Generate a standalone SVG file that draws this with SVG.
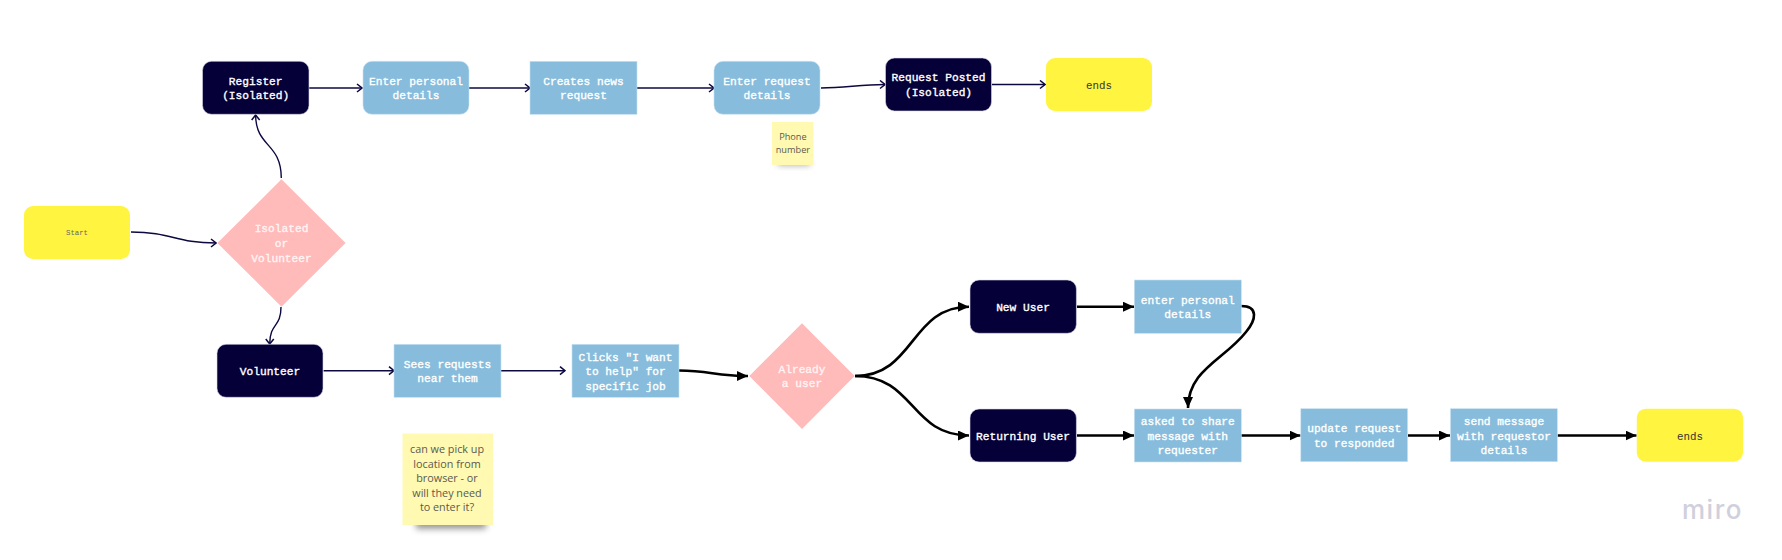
<svg xmlns="http://www.w3.org/2000/svg" width="1782" height="560" viewBox="0 0 1782 560">
<style>
text{text-anchor:middle}
.t{font:11.2px "Liberation Mono",monospace;fill:#fff;stroke:#fff;stroke-width:.35}
.p{font:11.2px "Liberation Mono",monospace;fill:#fff4f4;stroke:#fff4f4;stroke-width:.35}
.y{font:10.8px "Liberation Mono",monospace;fill:#333}
.n{font:10.8px "Open Sans",sans-serif;fill:#5a5a50}
.navy{fill:#050038;stroke:#d8d6e8;stroke-width:.6}
.blue{fill:#87bcdc;stroke:#c8e2f2;stroke-width:.6}
.yel{fill:#fff440}
.pink{fill:#ffbaba}
.note{fill:#fff9b1}
.c1{fill:none;stroke:#0c0840;stroke-width:1.4;marker-end:url(#open)}
.c2{fill:none;stroke:#000;stroke-width:2.6;marker-end:url(#solid)}
</style>
<defs>
<marker id="open" viewBox="0 0 8 10" refX="7" refY="5" markerUnits="userSpaceOnUse" markerWidth="8" markerHeight="10" orient="auto"><path d="M2 1 L7 5 L2 9" fill="none" stroke="#0c0840" stroke-width="1.5"/></marker>
<marker id="solid" viewBox="0 0 11 10" refX="11" refY="5" markerUnits="userSpaceOnUse" markerWidth="11" markerHeight="10" orient="auto"><path d="M0 0 L11 5 L0 10 Z" fill="#000"/></marker>
<filter id="blur" x="-20%" y="-150%" width="140%" height="400%"><feGaussianBlur stdDeviation="3"/></filter>
</defs>
<rect width="1782" height="560" fill="#fff"/>
<g id="connectors">
<path class="c1" d="M131 232 C172 232 175 243 216 243"/>
<path class="c1" d="M281.3 178 C281 142 256 148 255.6 115"/>
<path class="c1" d="M281 307 C281 328 270 322 269.7 344"/>
<path class="c1" d="M309 88 H362"/>
<path class="c1" d="M469 88 H530"/>
<path class="c1" d="M637 88 H714"/>
<path class="c1" d="M821 88 C845 88 860 84.5 885 84.5"/>
<path class="c1" d="M992 84.5 H1045"/>
<path class="c1" d="M323.5 370.7 H394"/>
<path class="c1" d="M501 370.7 H565"/>
<path class="c2" d="M679 370.5 C710 370.5 715 376 748 376"/>
<path class="c2" d="M855 376 C915 376 910 306.7 969 306.7"/>
<path class="c2" d="M855 376 C915 376 910 435.5 969 435.5"/>
<path class="c2" d="M1077 306.7 H1134"/>
<path class="c2" d="M1077 435.5 H1134"/>
<path class="c2" d="M1241 306 C1259 306 1256 320 1246 332 C1224 360 1188 370 1188 408"/>
<path class="c2" d="M1241 435.5 H1300.5"/>
<path class="c2" d="M1408 435.5 H1450"/>
<path class="c2" d="M1557.5 435.5 H1636.5"/>
</g>
<g id="start"><rect class="yel" x="24" y="206" width="106" height="53" rx="9"/><text style="font:7.3px 'Liberation Mono',monospace;fill:#666" x="77" y="234.5">Start</text></g>
<g id="decision-isolated"><polygon class="pink" points="281.5,179.3 345.6,243 281.5,306.7 217.4,243"/><text class="p" x="281.5" y="231.5">Isolated</text><text class="p" x="281.5" y="246.8">or</text><text class="p" x="281.5" y="261.5">Volunteer</text></g>
<g id="register"><rect class="navy" x="202.5" y="61.3" width="106.5" height="53" rx="9"/><text class="t" x="255.7" y="84.5">Register</text><text class="t" x="255.7" y="98.5">(Isolated)</text></g>
<g id="enter-personal"><rect class="blue" x="363" y="61.3" width="106" height="53" rx="9"/><text class="t" x="416" y="84.5">Enter personal</text><text class="t" x="416" y="98.5">details</text></g>
<g id="creates-news"><rect class="blue" x="530" y="61.3" width="107" height="53"/><text class="t" x="583.5" y="84.5">Creates news</text><text class="t" x="583.5" y="98.5">request</text></g>
<g id="enter-request"><rect class="blue" x="714" y="61.3" width="106" height="53" rx="9"/><text class="t" x="767" y="84.5">Enter request</text><text class="t" x="767" y="98.5">details</text></g>
<g id="request-posted"><rect class="navy" x="885.5" y="58" width="106" height="53" rx="9"/><text class="t" x="938.5" y="80.8">Request Posted</text><text class="t" x="938.5" y="95.8">(Isolated)</text></g>
<g id="ends-top"><rect class="yel" x="1046" y="58" width="106" height="53" rx="9"/><text class="y" x="1099" y="88.5">ends</text></g>
<g id="note-phone"><rect x="778" y="161" width="32" height="4" fill="#555" opacity=".6" filter="url(#blur)"/><rect class="note" x="772" y="122" width="41.5" height="43"/><text class="n" style="font-size:9.2px" x="792.9" y="140">Phone</text><text class="n" style="font-size:9.2px" x="792.9" y="153.3">number</text></g>
<g id="volunteer"><rect class="navy" x="217" y="344.3" width="106" height="53" rx="9"/><text class="t" x="270" y="374.5">Volunteer</text></g>
<g id="sees-requests"><rect class="blue" x="394" y="344.3" width="107" height="53"/><text class="t" x="447.5" y="367.8">Sees requests</text><text class="t" x="447.5" y="381.8">near them</text></g>
<g id="clicks-help"><rect class="blue" x="572" y="344.3" width="107" height="53"/><text class="t" x="625.5" y="360.8">Clicks "I want</text><text class="t" x="625.5" y="374.8">to help" for</text><text class="t" x="625.5" y="389.8">specific job</text></g>
<g id="note-location"><rect x="416" y="518" width="70" height="11" fill="#444" opacity=".55" filter="url(#blur)"/><rect class="note" x="402.5" y="433.5" width="90.5" height="91.5"/><text class="n" x="447" y="453.3">can we pick up</text><text class="n" x="447" y="468">location from</text><text class="n" x="447" y="482.3">browser - or</text><text class="n" x="447" y="497.3">will they need</text><text class="n" x="447" y="511.3">to enter it?</text></g>
<g id="decision-user"><polygon class="pink" points="802,323.3 854.6,376 802,429 749.3,376"/><text class="p" x="802" y="372.8">Already</text><text class="p" x="802" y="386.8">a user</text></g>
<g id="new-user"><rect class="navy" x="970" y="280" width="106.4" height="53.3" rx="9"/><text class="t" x="1023" y="310.5">New User</text></g>
<g id="returning-user"><rect class="navy" x="970" y="409" width="106.4" height="53" rx="9"/><text class="t" x="1023" y="439.5">Returning User</text></g>
<g id="enter-personal-2"><rect class="blue" x="1134.3" y="280" width="107" height="53.3"/><text class="t" x="1187.8" y="303.5">enter personal</text><text class="t" x="1187.8" y="317.5">details</text></g>
<g id="asked-share"><rect class="blue" x="1134.3" y="409" width="107" height="53"/><text class="t" x="1187.8" y="424.8">asked to share</text><text class="t" x="1187.8" y="439.5">message with</text><text class="t" x="1187.8" y="453.5">requester</text></g>
<g id="update-request"><rect class="blue" x="1300.8" y="408.7" width="106.8" height="53"/><text class="t" x="1354.2" y="431.8">update request</text><text class="t" x="1354.2" y="446.8">to responded</text></g>
<g id="send-message"><rect class="blue" x="1450.5" y="408.7" width="106.8" height="53"/><text class="t" x="1504" y="424.8">send message</text><text class="t" x="1504" y="439.5">with requestor</text><text class="t" x="1504" y="453.8">details</text></g>
<g id="ends-bottom"><rect class="yel" x="1636.8" y="408.7" width="106.2" height="53" rx="9"/><text class="y" x="1690" y="439.8">ends</text></g>
<text x="1712.5" y="518.7" style="font:500 26px 'Inter','Noto Sans',sans-serif;fill:#d0d0dc;letter-spacing:1.5px">miro</text>
</svg>
